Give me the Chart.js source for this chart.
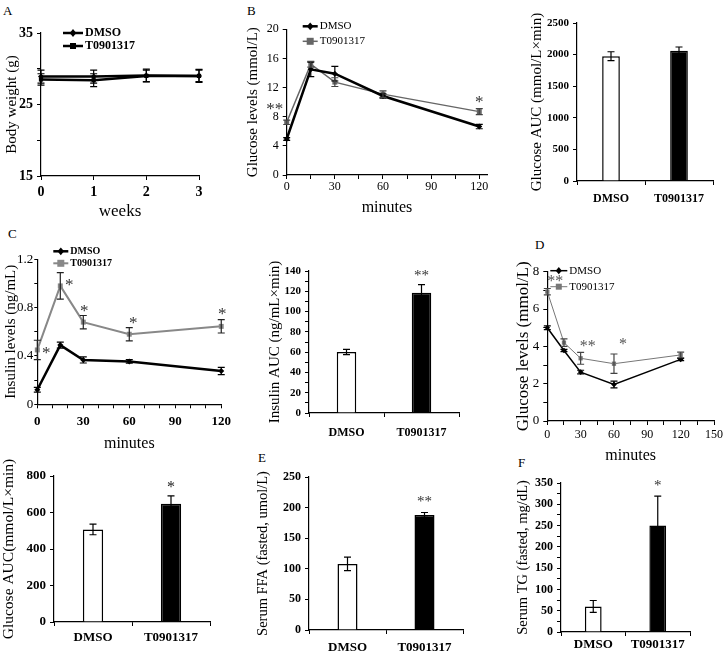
<!DOCTYPE html>
<html><head><meta charset="utf-8">
<script src="https://cdn.jsdelivr.net/npm/chart.js@4.4.0/dist/chart.umd.min.js"></script>
<style>
html,body{margin:0;padding:0;background:#fff;width:724px;height:654px;overflow:hidden;position:relative;font-family:"Liberation Serif","Times New Roman",serif}
canvas{position:absolute}
.lbl{position:absolute;font-family:"Liberation Serif","Times New Roman",serif;font-size:13px;color:#000;line-height:1}
</style></head><body>
<div class="lbl" style="left:3px;top:4px">A</div>
<div class="lbl" style="left:247px;top:4px">B</div>
<div class="lbl" style="left:8px;top:227px">C</div>
<div class="lbl" style="left:535px;top:238px">D</div>
<div class="lbl" style="left:258px;top:451px">E</div>
<div class="lbl" style="left:518px;top:456px">F</div>
<script>
// ---------- data ----------
const groups = ['DMSO', 'T0901317'];

// A: body weight
const weeks = [0, 1, 2, 3];
const bwDMSO = [28.9, 28.9, 29.05, 29.0];
const bwDMSOErr = [0.9, 0.9, 0.9, 0.9];
const bwT = [28.5, 28.4, 29.0, 29.0];
const bwTErr = [0.8, 0.9, 0.8, 0.8];

// B: GTT
const minutes = [0, 15, 30, 60, 120];
const gttDMSO = [4.94, 14.5, 13.9, 10.85, 6.65];
const gttDMSOErr = [0.2, 1.0, 1.0, 0.3, 0.3];
const gttT = [7.23, 15.2, 12.75, 11.1, 8.7];
const gttTErr = [0.3, 0.4, 0.6, 0.45, 0.4];
const gttStars = ['**', '', '', '', '*'];
const gttAUC = [1975, 2060];
const gttAUCErr = [70, 60];

// C: insulin
const insDMSO = [0.12, 0.49, 0.367, 0.355, 0.276];
const insDMSOErr = [0.02, 0.025, 0.025, 0.015, 0.03];
const insT = [0.45, 0.98, 0.68, 0.58, 0.645];
const insTErr = [0.08, 0.11, 0.055, 0.055, 0.055];
const insStars = ['*', '*', '*', '*', '*'];
const insAUC = [60.2, 118.5];
const insAUCErr = [2.6, 8];
const insAUCStars = ['', '**'];

// D: ITT
const ittDMSO = [5.0, 3.78, 2.62, 1.96, 3.3];
const ittDMSOErr = [0.1, 0.06, 0.1, 0.18, 0.06];
const ittT = [6.93, 4.2, 3.36, 3.07, 3.54];
const ittTErr = [0.17, 0.2, 0.32, 0.52, 0.15];
const ittStars = ['**', '', '**', '*', ''];
const ittAUC = [507, 648];
const ittAUCErr = [29, 43];
const ittAUCStars = ['', '*'];

// E, F
const ffa = [108, 188];
const ffaErr = [11, 4];
const ffaStars = ['', '**'];
const tg = [60, 250];
const tgErr = [14, 69];
const tgStars = ['', '*'];

// ---------- helpers ----------
const SERIF = '"Liberation Serif","Times New Roman",serif';
Chart.defaults.font.family = SERIF;
Chart.defaults.color = '#000';

const errorBarPlugin = {
  id: 'errorBars',
  afterDatasetsDraw(chart) {
    const ctx = chart.ctx;
    chart.data.datasets.forEach((ds, i) => {
      if (!ds.errors) return;
      const meta = chart.getDatasetMeta(i);
      const ys = chart.scales[meta.yAxisID];
      meta.data.forEach((el, j) => {
        const v = ds.data[j];
        const val = (typeof v === 'object') ? v.y : v;
        const e = ds.errors[j];
        const x = el.x;
        const yT = ys.getPixelForValue(val + e), yB = ys.getPixelForValue(val - e);
        const c = ds.capWidth || 3.5;
        ctx.save();
        ctx.strokeStyle = ds.errorColor || '#000';
        ctx.lineWidth = ds.errorWidth || 1.2;
        ctx.beginPath();
        ctx.moveTo(x, yT); ctx.lineTo(x, yB);
        ctx.moveTo(x - c, yT); ctx.lineTo(x + c, yT);
        ctx.moveTo(x - c, yB); ctx.lineTo(x + c, yB);
        ctx.stroke();
        ctx.restore();
      });
    });
  }
};

const starPlugin = {
  id: 'stars',
  afterDatasetsDraw(chart, args, opts) {
    if (!opts || !opts.items) return;
    const ctx = chart.ctx;
    opts.items.forEach(s => {
      if (!s.text) return;
      const px = chart.scales.x.getPixelForValue(s.x) + (s.dx || 0);
      const py = chart.scales.y.getPixelForValue(s.y) + (s.dy || 0);
      ctx.save();
      ctx.font = opts.font || ('16px ' + SERIF);
      ctx.fillStyle = opts.color || '#000';
      ctx.textAlign = 'center';
      ctx.textBaseline = 'middle';
      ctx.fillText(s.text, px, py);
      ctx.restore();
    });
  }
};

function drawMarker(ctx, style, x, y, r) {
  ctx.beginPath();
  if (style === 'rect') {
    ctx.rect(x - r, y - r, 2 * r, 2 * r);
  } else {
    ctx.moveTo(x, y - r * 1.3); ctx.lineTo(x + r * 1.1, y); ctx.lineTo(x, y + r * 1.3); ctx.lineTo(x - r * 1.1, y); ctx.closePath();
  }
  ctx.fill();
}

const legendPlugin = {
  id: 'lineLegend',
  afterDraw(chart, args, opts) {
    if (!opts || opts.dx === undefined) return;
    const ca = chart.chartArea, ctx = chart.ctx;
    chart.data.datasets.forEach((ds, k) => {
      const y = ca.top + opts.dy + k * opts.gap;
      const x0 = ca.left + opts.dx, x1 = x0 + opts.len;
      ctx.save();
      ctx.strokeStyle = ds.borderColor; ctx.lineWidth = ds.borderWidth;
      ctx.beginPath(); ctx.moveTo(x0, y); ctx.lineTo(x1, y); ctx.stroke();
      ctx.fillStyle = ds.pointBackgroundColor;
      drawMarker(ctx, ds.pointStyle, (x0 + x1) / 2, y, ds.pointRadius);
      ctx.fillStyle = '#000';
      ctx.font = opts.font;
      ctx.textBaseline = 'middle';
      ctx.textAlign = 'left';
      ctx.fillText(ds.label, x1 + 2, y);
      ctx.restore();
    });
  }
};

function linAxis(o) {
  const a = {
    type: 'linear', min: o.min, max: o.max,
    border: { display: true, color: '#000', width: 1.2 },
    grid: { drawOnChartArea: false, drawTicks: true, tickLength: (o.tl !== undefined ? o.tl : 4), color: '#000', lineWidth: 1 },
    ticks: { stepSize: o.step, autoSkip: false, padding: (o.pad !== undefined ? o.pad : 4), color: '#000',
      maxRotation: 0, minRotation: 0, includeBounds: o.includeBounds !== false,
      font: { size: o.fs, weight: o.bold ? 'bold' : 'normal' },
      callback: o.cb || (v => String(v)) },
    title: o.title ? { display: true, text: o.title, color: '#000', font: { size: o.ts }, padding: { top: 0, bottom: 0 } } : { display: false }
  };
  return a;
}

function catAxis(o) {
  return {
    type: 'category',
    offset: true,
    border: { display: true, color: '#000', width: 1.2 },
    grid: { offset: true, drawOnChartArea: false, drawTicks: true, tickLength: 4, color: '#000' },
    ticks: { padding: o.pad, color: '#000', maxRotation: 0, font: { size: o.fs, weight: 'bold' } }
  };
}

function mk(box, area, cfg) {
  const c = document.createElement('canvas');
  c.width = box.w; c.height = box.h;
  c.style.left = box.x + 'px'; c.style.top = box.y + 'px';
  c.style.width = box.w + 'px'; c.style.height = box.h + 'px';
  document.body.appendChild(c);
  const o = cfg.options;
  o.responsive = false; o.animation = false; o.devicePixelRatio = 1; o.events = [];
  o.layout = { padding: { left: 0, top: area.t - box.y, right: box.x + box.w - area.r, bottom: 0 } };
  o.scales.y.afterFit = s => { s.width = area.l - box.x; };
  o.scales.x.afterFit = s => { s.height = box.y + box.h - area.b; };
  o.plugins = Object.assign({ legend: { display: false }, tooltip: { enabled: false } }, o.plugins || {});
  cfg.plugins = [errorBarPlugin, starPlugin, legendPlugin];
  return new Chart(c, cfg);
}

function lineDs(label, xs, ys, errs, st) {
  return Object.assign({ label, data: xs.map((x, i) => ({ x, y: ys[i] })), errors: errs,
    clip: false, fill: false, tension: 0, pointBorderWidth: 0 }, st);
}

function barDs(vals, errs) {
  return { data: vals, errors: errs, backgroundColor: ['#fff', '#000'], borderColor: '#000', borderWidth: 1.5,
    barPercentage: 0.26, categoryPercentage: 1, capWidth: 3.5 };
}

const blackDiamond = { borderColor: '#000', pointStyle: 'rectRot', pointBackgroundColor: '#000', pointBorderColor: '#000' };
const sq = c => ({ borderColor: c, pointStyle: 'rect', pointBackgroundColor: c, pointBorderColor: c });

// ---------- A ----------
mk({ x: 3, y: 0, w: 211, h: 222 }, { l: 41, t: 33, r: 199, b: 176 }, {
  type: 'line',
  data: { datasets: [
    lineDs('DMSO', weeks, bwDMSO, bwDMSOErr, Object.assign({ borderWidth: 2.5, pointRadius: 3 }, blackDiamond)),
    lineDs('T0901317', weeks, bwT, bwTErr, Object.assign({ borderWidth: 2.5, pointRadius: 3 }, sq('#000')))
  ] },
  options: {
    scales: {
      x: linAxis({ min: 0, max: 3, step: 1, fs: 14, bold: true, pad: 4, title: 'weeks', ts: 17 }),
      y: linAxis({ min: 15, max: 35, step: 5, fs: 14, bold: true, pad: 4, title: 'Body weight (g)', ts: 15,
        cb: v => ((v - 15) % 10 === 0 ? String(v) : '') })
    },
    plugins: { lineLegend: { dx: 22, dy: 0, gap: 13, len: 20, font: 'bold 12px ' + SERIF } }
  }
});

// ---------- B line ----------
mk({ x: 244, y: 0, w: 258, h: 217 }, { l: 286.7, t: 29.3, r: 487.3, b: 175 }, {
  type: 'line',
  data: { datasets: [
    lineDs('DMSO', minutes, gttDMSO, gttDMSOErr, Object.assign({ borderWidth: 2.5, pointRadius: 3 }, blackDiamond)),
    lineDs('T0901317', minutes, gttT, gttTErr, Object.assign({ borderWidth: 1.5, pointRadius: 3.5, errorColor: '#444' }, sq('#666')))
  ] },
  options: {
    scales: {
      x: linAxis({ min: 0, max: 125, step: 15, fs: 12, pad: 1, title: 'minutes', ts: 16, includeBounds: false,
        cb: v => (v % 30 === 0 ? String(v) : '') }),
      y: linAxis({ min: 0, max: 20, step: 4, fs: 12, pad: 4, title: 'Glucose levels (mmol/L)', ts: 15 })
    },
    plugins: {
      lineLegend: { dx: 16, dy: -3, gap: 15, len: 15, font: '11px ' + SERIF },
      stars: { color: '#333', font: '17px ' + SERIF, items: [
        { x: minutes[0], y: gttT[0], text: gttStars[0], dx: -12, dy: -13 },
        { x: minutes[4], y: gttT[4], text: gttStars[4], dx: 0, dy: -9 }
      ] }
    }
  }
});

// ---------- B AUC ----------
mk({ x: 528, y: 0, w: 200, h: 220 }, { l: 577, t: 23, r: 713, b: 181 }, {
  type: 'bar',
  data: { labels: groups, datasets: [barDs(gttAUC, gttAUCErr)] },
  options: {
    scales: {
      x: catAxis({ fs: 12, pad: 7 }),
      y: linAxis({ min: 0, max: 2500, step: 500, fs: 11, bold: true, pad: 4, title: 'Glucose AUC (mmol/L\u00d7min)', ts: 15 })
    }
  }
});

// ---------- C line ----------
mk({ x: 2, y: 220, w: 235, h: 233 }, { l: 37.3, t: 259.3, r: 221.7, b: 404.3 }, {
  type: 'line',
  data: { datasets: [
    lineDs('DMSO', minutes, insDMSO, insDMSOErr, Object.assign({ borderWidth: 2.5, pointRadius: 3 }, blackDiamond)),
    lineDs('T0901317', minutes, insT, insTErr, Object.assign({ borderWidth: 2, pointRadius: 3.5, errorColor: '#222' }, sq('#888')))
  ] },
  options: {
    scales: {
      x: linAxis({ min: 0, max: 120, step: 10, fs: 13, bold: true, pad: 6, title: 'minutes', ts: 16,
        cb: v => (v % 30 === 0 ? String(v) : '') }),
      y: linAxis({ min: 0, max: 1.2, step: 0.2, fs: 13, pad: 1, tl: 3, title: 'Insulin levels (ng/mL)', ts: 15,
        cb: v => (Math.abs(v / 0.4 - Math.round(v / 0.4)) < 1e-6 ? (Math.abs(v) < 1e-9 ? '0' : v.toFixed(1)) : '') })
    },
    plugins: {
      lineLegend: { dx: 16, dy: -8, gap: 12, len: 15, font: 'bold 10px ' + SERIF },
      stars: { color: '#333', font: '17px ' + SERIF, items: [
        { x: minutes[0], y: insT[0], text: insStars[0], dx: 9, dy: 4 },
        { x: minutes[1], y: insT[1], text: insStars[1], dx: 9, dy: 0 },
        { x: minutes[2], y: insT[2], text: insStars[2], dx: 1, dy: -11 },
        { x: minutes[3], y: insT[3], text: insStars[3], dx: 4, dy: -11 },
        { x: minutes[4], y: insT[4], text: insStars[4], dx: 1, dy: -12 }
      ] }
    }
  }
});

// ---------- Insulin AUC ----------
mk({ x: 266, y: 230, w: 208, h: 220 }, { l: 309, t: 271, r: 459, b: 413 }, {
  type: 'bar',
  data: { labels: groups, datasets: [barDs(insAUC, insAUCErr)] },
  options: {
    scales: {
      x: catAxis({ fs: 12, pad: 9 }),
      y: linAxis({ min: 0, max: 140, step: 10, fs: 11, bold: true, pad: 4, title: 'Insulin AUC (ng/mL\u00d7min)', ts: 15,
        cb: v => (v % 20 === 0 ? String(v) : '') })
    },
    plugins: { stars: { color: '#333', font: '15px ' + SERIF, items: insAUC.map((v, i) => ({ x: i, y: v + insAUCErr[i], text: insAUCStars[i], dy: -9 })) } }
  }
});

// ---------- D line ----------
mk({ x: 513, y: 230, w: 216, h: 235 }, { l: 547.3, t: 271.7, r: 714, b: 421 }, {
  type: 'line',
  data: { datasets: [
    lineDs('DMSO', minutes, ittDMSO, ittDMSOErr, Object.assign({ borderWidth: 1.5, pointRadius: 2.8 }, blackDiamond)),
    lineDs('T0901317', minutes, ittT, ittTErr, Object.assign({ borderWidth: 1, pointRadius: 3, errorColor: '#444' }, sq('#777')))
  ] },
  options: {
    scales: {
      x: linAxis({ min: 0, max: 150, step: 15, fs: 12, pad: 3, title: 'minutes', ts: 16,
        cb: v => (v % 30 === 0 ? String(v) : '') }),
      y: linAxis({ min: 0, max: 8, step: 1, fs: 13, pad: 4, title: 'Glucose levels (mmol/L)', ts: 17,
        cb: v => (v % 2 === 0 ? String(v) : '') })
    },
    plugins: {
      lineLegend: { dx: 3, dy: -1, gap: 16, len: 17, font: '11px ' + SERIF },
      stars: { color: '#555', font: '16px ' + SERIF, items: [
        { x: minutes[0], y: ittT[0], text: ittStars[0], dx: 8, dy: -10 },
        { x: minutes[2], y: ittT[2], text: ittStars[2], dx: 7, dy: -11 },
        { x: minutes[3], y: ittT[3], text: ittStars[3], dx: 9, dy: -19 }
      ] }
    }
  }
});

// ---------- ITT AUC ----------
mk({ x: 0, y: 440, w: 225, h: 214 }, { l: 54, t: 476, r: 210, b: 622 }, {
  type: 'bar',
  data: { labels: groups, datasets: [barDs(ittAUC, ittAUCErr)] },
  options: {
    scales: {
      x: catAxis({ fs: 13, pad: 4 }),
      y: linAxis({ min: 0, max: 800, step: 200, fs: 13, bold: true, pad: 4, title: 'Glucose AUC(mmol/L\u00d7min)', ts: 15.5 })
    },
    plugins: { stars: { color: '#222', font: '16px ' + SERIF, items: ittAUC.map((v, i) => ({ x: i, y: v + ittAUCErr[i], text: ittAUCStars[i], dy: -8 })) } }
  }
});

// ---------- E ----------
mk({ x: 254, y: 440, w: 224, h: 214 }, { l: 309, t: 477, r: 463, b: 630 }, {
  type: 'bar',
  data: { labels: groups, datasets: [barDs(ffa, ffaErr)] },
  options: {
    scales: {
      x: catAxis({ fs: 13, pad: 6 }),
      y: linAxis({ min: 0, max: 250, step: 50, fs: 12, bold: true, pad: 4, title: 'Serum FFA (fasted, umol/L)', ts: 14.5 })
    },
    plugins: { stars: { color: '#333', font: '15px ' + SERIF, items: ffa.map((v, i) => ({ x: i, y: v + ffaErr[i], text: ffaStars[i], dy: -10 })) } }
  }
});

// ---------- F ----------
mk({ x: 514, y: 440, w: 191, h: 214 }, { l: 561, t: 483, r: 690, b: 632 }, {
  type: 'bar',
  data: { labels: groups, datasets: [barDs(tg, tgErr)] },
  options: {
    scales: {
      x: catAxis({ fs: 13, pad: 1 }),
      y: linAxis({ min: 0, max: 350, step: 25, fs: 12, bold: true, pad: 4, title: 'Serum TG (fasted, mg/dL)', ts: 14.5,
        cb: v => (v % 50 === 0 ? String(v) : '') })
    },
    plugins: { stars: { color: '#333', font: '15px ' + SERIF, items: tg.map((v, i) => ({ x: i, y: v + tgErr[i], text: tgStars[i], dy: -10 })) } }
  }
});
</script>
</body></html>
